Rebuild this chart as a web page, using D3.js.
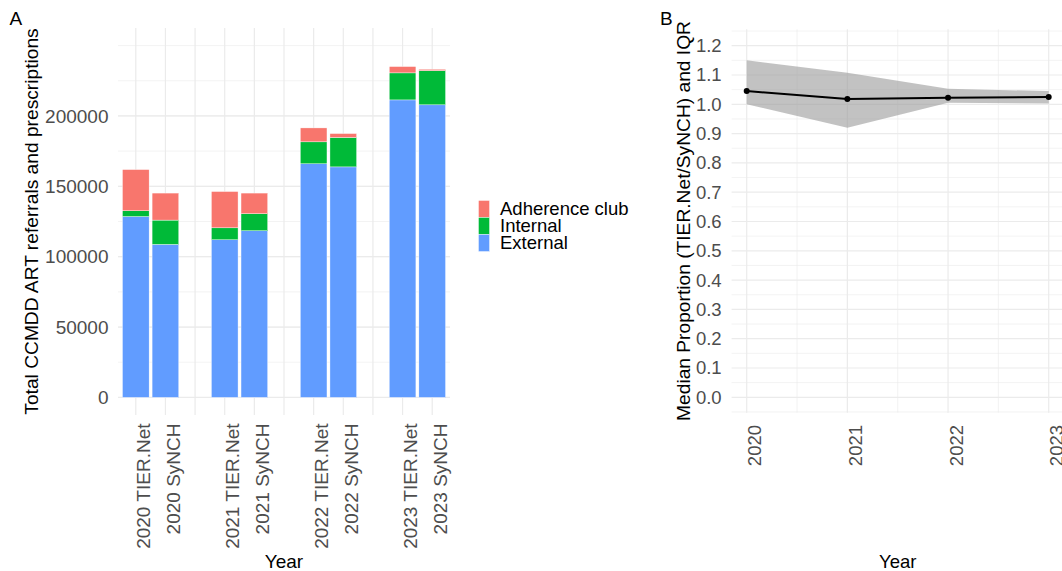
<!DOCTYPE html>
<html lang="en">
<head>
<meta charset="UTF-8">
<title>CCMDD ART referrals and prescriptions</title>
<script src="https://d3js.org/d3.v7.min.js"></script>
<style>
    body { margin: 0; background: #fff; }
    svg { display: block; font-family: "Liberation Sans", Arial, sans-serif; }
    .grid-major { stroke: #EBEBEB; stroke-width: 1.2; }
    .grid-minor { stroke: #EBEBEB; stroke-width: 0.6; }
    .tick text { fill: #4D4D4D; }
</style>
</head>
<body>
<script>
// ---- panel A data (stacked bars) ----
const categories = ["2020 TIER.Net", "2020 SyNCH", " ",
                    "2021 TIER.Net", "2021 SyNCH", "  ",
                    "2022 TIER.Net", "2022 SyNCH", "   ",
                    "2023 TIER.Net", "2023 SyNCH"];
const barLabels = ["2020 TIER.Net", "2020 SyNCH", "2021 TIER.Net", "2021 SyNCH",
                   "2022 TIER.Net", "2022 SyNCH", "2023 TIER.Net", "2023 SyNCH"];
const external  = [128500, 108700, 112000, 118400, 166000, 163800, 211400, 207900];
const internal  = [4100, 17300, 8500, 12100, 15600, 20900, 19200, 24300];
const adherence = [29300, 19200, 25800, 14700, 9900, 2800, 4500, 1000];
const seriesNames = ["Adherence club", "Internal", "External"];
const seriesColors = ["#F8766D", "#00BA38", "#619CFF"];
const yTicksA = [0, 50000, 100000, 150000, 200000];

// ---- panel B data (median + IQR) ----
const years = [2020, 2021, 2022, 2023];
const median = [1.045, 1.018, 1.0225, 1.025];
const iqrLow = [1.000, 0.920, 1.005, 1.003];
const iqrHigh = [1.150, 1.108, 1.053, 1.045];
const yTicksB = d3.range(0, 13).map(i => i / 10);

const width = 1062, height = 571;
const svg = d3.select("body").append("svg")
    .attr("width", width).attr("height", height);
svg.append("rect").attr("width", width).attr("height", height).attr("fill", "#fff");

// ================= Panel A =================
const pA = {left: 118, right: 450, top: 28, bottom: 415};
const xA = d3.scalePoint().domain(categories).range([pA.left, pA.right]).padding(0.6);
const yA = d3.scaleLinear().domain([-12500, 262500]).range([pA.bottom, pA.top]);
const bw = xA.step() * 0.9;

const gA = svg.append("g");
// minor horizontal grid
gA.selectAll(".mnA").data(d3.range(25000, 262500, 25000)).enter().append("line")
    .attr("class", "grid-minor")
    .attr("x1", pA.left).attr("x2", pA.right)
    .attr("y1", d => yA(d)).attr("y2", d => yA(d));
gA.selectAll(".mjA").data(yTicksA).enter().append("line")
    .attr("class", "grid-major")
    .attr("x1", pA.left).attr("x2", pA.right)
    .attr("y1", d => yA(d)).attr("y2", d => yA(d));
gA.selectAll(".vA").data(categories).enter().append("line")
    .attr("class", "grid-major")
    .attr("x1", d => xA(d)).attr("x2", d => xA(d))
    .attr("y1", pA.top).attr("y2", pA.bottom);

// stacked bars
const rows = barLabels.map((c, i) => ({cat: c, External: external[i], Internal: internal[i], "Adherence club": adherence[i]}));
const stack = d3.stack().keys(["External", "Internal", "Adherence club"])(rows);
const colorA = d3.scaleOrdinal().domain(seriesNames).range(seriesColors);
gA.selectAll(".layer").data(stack).enter().append("g")
    .attr("fill", d => colorA(d.key))
    .selectAll("rect").data(d => d).enter().append("rect")
    .attr("x", d => xA(d.data.cat) - bw / 2)
    .attr("width", bw)
    .attr("y", d => yA(d[1]))
    .attr("height", d => yA(d[0]) - yA(d[1]))
    .attr("stroke", "#fff").attr("stroke-width", 0.4);

// axes
const axA = svg.append("g").attr("transform", `translate(${pA.left},0)`)
    .call(d3.axisLeft(yA).tickValues(yTicksA).tickSize(0).tickPadding(9.5).tickFormat(d3.format("d")));
axA.select(".domain").remove();
axA.selectAll("text").style("font-size", "19px").style("font-family", "Liberation Sans, Arial, sans-serif");

const axAx = svg.append("g").attr("transform", `translate(0,${pA.bottom})`)
    .call(d3.axisBottom(xA).tickSize(0));
axAx.select(".domain").remove();
axAx.selectAll("text")
    .style("font-size", "19px").style("font-family", "Liberation Sans, Arial, sans-serif")
    .attr("text-anchor", "end")
    .attr("transform", "rotate(-90)")
    .attr("x", -8.5).attr("y", 13.8).attr("dy", 0);

svg.append("text").attr("x", (pA.left + pA.right) / 2).attr("y", 568)
    .attr("text-anchor", "middle").style("font-size", "19px").text("Year");
svg.append("text").attr("transform", `translate(37.5,${(pA.top + pA.bottom) / 2}) rotate(-90)`)
    .attr("text-anchor", "middle").style("font-size", "19.2px")
    .text("Total CCMDD ART referrals and prescriptions");
svg.append("text").attr("x", 9.5).attr("y", 25).style("font-size", "19px").text("A");

// legend
const legend = svg.append("g").selectAll("g").data(seriesNames).enter().append("g")
    .attr("transform", (d, i) => `translate(478.5,${200.5 + i * 17})`);
legend.append("rect").attr("width", 11).attr("height", 17)
    .attr("fill", d => colorA(d)).attr("stroke", "#fff").attr("stroke-width", 0.4);
legend.append("text").attr("x", 21.5).attr("y", 14.5)
    .style("font-size", "18.5px").text(d => d);

// ================= Panel B =================
const pB = {left: 731.6, right: 1063.8, top: 29.3, bottom: 412.7};
const xB = d3.scaleLinear().domain([2019.85, 2023.15]).range([pB.left, pB.right]);
const yB = d3.scaleLinear().domain([-0.0526, 1.256]).range([pB.bottom, pB.top]);

const gB = svg.append("g");
gB.selectAll(".mnBy").data(d3.range(-1, 27, 2).map(i => i * 0.05)).enter().append("line")
    .attr("class", "grid-minor")
    .attr("x1", pB.left).attr("x2", pB.right)
    .attr("y1", d => yB(d)).attr("y2", d => yB(d));
gB.selectAll(".mnBx").data([2020.5, 2021.5, 2022.5]).enter().append("line")
    .attr("class", "grid-minor")
    .attr("x1", d => xB(d)).attr("x2", d => xB(d))
    .attr("y1", pB.top).attr("y2", pB.bottom);
gB.selectAll(".mjBy").data(yTicksB).enter().append("line")
    .attr("class", "grid-major")
    .attr("x1", pB.left).attr("x2", pB.right)
    .attr("y1", d => yB(d)).attr("y2", d => yB(d));
gB.selectAll(".mjBx").data(years).enter().append("line")
    .attr("class", "grid-major")
    .attr("x1", d => xB(d)).attr("x2", d => xB(d))
    .attr("y1", pB.top).attr("y2", pB.bottom);

const ptsB = years.map((y, i) => ({year: y, med: median[i], lo: iqrLow[i], hi: iqrHigh[i]}));
gB.append("path").datum(ptsB)
    .attr("fill", "#999999").attr("fill-opacity", 0.6)
    .attr("d", d3.area().x(d => xB(d.year)).y0(d => yB(d.lo)).y1(d => yB(d.hi)));
gB.append("path").datum(ptsB)
    .attr("fill", "none").attr("stroke", "#000").attr("stroke-width", 2)
    .attr("d", d3.line().x(d => xB(d.year)).y(d => yB(d.med)));
gB.selectAll("circle").data(ptsB).enter().append("circle")
    .attr("cx", d => xB(d.year)).attr("cy", d => yB(d.med)).attr("r", 3).attr("fill", "#000");

const axB = svg.append("g").attr("transform", `translate(${pB.left},0)`)
    .call(d3.axisLeft(yB).tickValues(yTicksB).tickSize(0).tickPadding(10).tickFormat(d3.format(".1f")));
axB.select(".domain").remove();
axB.selectAll("text").style("font-size", "18.5px").style("font-family", "Liberation Sans, Arial, sans-serif");

const axBx = svg.append("g").attr("transform", `translate(0,${pB.bottom})`)
    .call(d3.axisBottom(xB).tickValues(years).tickSize(0).tickFormat(d3.format("d")));
axBx.select(".domain").remove();
axBx.selectAll("text")
    .style("font-size", "18.5px").style("font-family", "Liberation Sans, Arial, sans-serif")
    .attr("text-anchor", "end")
    .attr("transform", "rotate(-90)")
    .attr("x", -12.3).attr("y", 14).attr("dy", 0);

svg.append("text").attr("x", (pB.left + pB.right) / 2).attr("y", 568)
    .attr("text-anchor", "middle").style("font-size", "18.5px").text("Year");
svg.append("text").attr("transform", `translate(689.5,${(pB.top + pB.bottom) / 2}) rotate(-90)`)
    .attr("text-anchor", "middle").style("font-size", "19.2px")
    .text("Median Proportion (TIER.Net/SyNCH) and IQR");
svg.append("text").attr("x", 660).attr("y", 25).style("font-size", "19px").text("B");
</script>
</body>
</html>
